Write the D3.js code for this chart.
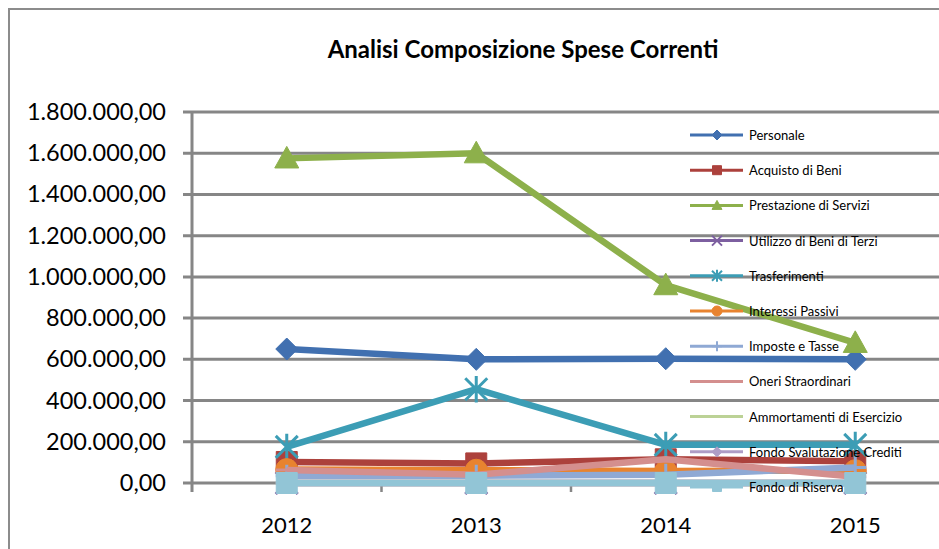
<!DOCTYPE html>
<html>
<head>
<meta charset="utf-8">
<script src="https://cdn.jsdelivr.net/npm/d3@7"></script>
<style>
  body { margin: 0; background: white; }
  #vis { width: 939px; height: 549px; }
  text { font-family: Lato, "Open Sans", sans-serif; fill: #000; }
</style>
</head>
<body>
<div id="vis"></div>
<script>
var years = ['2012', '2013', '2014', '2015'];
var yTicks = [0, 200000, 400000, 600000, 800000, 1000000, 1200000, 1400000, 1600000, 1800000];

var names = ['Personale', 'Acquisto di Beni', 'Prestazione di Servizi', 'Utilizzo di Beni di Terzi',
    'Trasferimenti', 'Interessi Passivi', 'Imposte e Tasse', 'Oneri Straordinari',
    'Ammortamenti di Esercizio', 'Fondo Svalutazione Crediti', 'Fondo di Riserva'];

var personale      = [650000, 600000, 603000, 600000];
var acquisto       = [102000, 95000, 115000, 105000];
var prestazione    = [1575000, 1600000, 960000, 680000];
var utilizzo       = [0, 0, 0, 0];
var trasferimenti  = [175000, 455000, 185000, 185000];
var interessi      = [65000, 62000, 58000, 60000];
var imposte        = [35000, 35000, 40000, 75000];
var oneri          = [63000, 40000, 115000, 30000];
var ammortamenti   = [0, 0, 0, 0];
var fondoSval      = [0, 0, 0, 0];
var fondoRiserva   = [0, 0, 0, 0];

var values = [personale, acquisto, prestazione, utilizzo, trasferimenti, interessi,
    imposte, oneri, ammortamenti, fondoSval, fondoRiserva];

var colors = ['#4170B0', '#AC413C', '#8DB04B', '#7D5FA0', '#3C9DB5', '#E8832F',
    '#8FA9D4', '#D48F8E', '#BCD296', '#AE9DC6', '#92C5D6'];
var markers = ['diamond', 'square', 'triangle', 'x', 'star', 'circle', 'plus', 'dash', 'dash', 'diamond', 'square'];

var width = 939, height = 549;

var svg = d3.select('#vis')
    .append('svg')
    .attr('width', width)
    .attr('height', height);

// outer chart border (cropped at right/bottom)
svg.append('rect')
    .attr('x', 9).attr('y', 9)
    .attr('width', 1000).attr('height', 600)
    .style('fill', 'white')
    .style('stroke', '#8c8c8c')
    .style('stroke-width', 2);

var x_scale = d3.scaleBand()
    .domain(years)
    .range([192, 950])
    .paddingInner(0);

var y_scale = d3.scaleLinear()
    .domain([0, 1800000])
    .range([483, 112]);

var itLocale = d3.formatLocale({ decimal: ',', thousands: '.', grouping: [3], currency: ['', ''] });
var fmt = itLocale.format(',.2f');

svg.append('text')
    .text('Analisi Composizione Spese Correnti')
    .attr('x', 523).attr('y', 58)
    .attr('text-anchor', 'middle')
    .style('font-size', '24px')
    .style('font-weight', 'bold');

// gridlines
svg.append('g').selectAll('line')
    .data(yTicks)
    .enter().append('line')
    .attr('x1', 183).attr('x2', 950)
    .attr('y1', function(d) { return y_scale(d); })
    .attr('y2', function(d) { return y_scale(d); })
    .style('stroke', '#868686')
    .style('stroke-width', 3);

// y axis
var y_axis = d3.axisLeft(y_scale)
    .tickValues(yTicks)
    .tickFormat(fmt)
    .tickSize(0)
    .tickPadding(26);

var yg = svg.append('g')
    .attr('transform', 'translate(192,0)')
    .call(y_axis);
yg.select('.domain').remove();
yg.selectAll('text').style('font-size', '23.5px').style('font-family', 'Lato, sans-serif');

svg.append('line')
    .attr('x1', 192).attr('x2', 192)
    .attr('y1', y_scale(1800000)).attr('y2', 492)
    .style('stroke', '#868686').style('stroke-width', 3);

// x axis
var x_axis = d3.axisBottom(x_scale).tickSize(0).tickPadding(34);
var xg = svg.append('g')
    .attr('transform', 'translate(0,483)')
    .call(x_axis);
xg.select('.domain').remove();
xg.selectAll('text').style('font-size', '22px').style('font-family', 'Lato, sans-serif');

svg.append('g').selectAll('line')
    .data(years.slice(1))
    .enter().append('line')
    .attr('x1', function(d) { return x_scale(d); })
    .attr('x2', function(d) { return x_scale(d); })
    .attr('y1', 483).attr('y2', 492)
    .style('stroke', '#868686').style('stroke-width', 2.5);

function markerPath(type, r) {
    if (type == 'diamond') return 'M0,' + (-r) + 'L' + r + ',0L0,' + r + 'L' + (-r) + ',0Z';
    if (type == 'square') return 'M' + (-r) + ',' + (-r) + 'h' + (2 * r) + 'v' + (2 * r) + 'h' + (-2 * r) + 'Z';
    if (type == 'triangle') return 'M0,' + (-r) + 'L' + r + ',' + (r * 0.8) + 'L' + (-r) + ',' + (r * 0.8) + 'Z';
    if (type == 'circle') return d3.symbol(d3.symbolCircle, Math.PI * r * r)();
    if (type == 'x') return 'M' + (-r) + ',' + (-r) + 'L' + r + ',' + r + 'M' + r + ',' + (-r) + 'L' + (-r) + ',' + r;
    if (type == 'star') return 'M' + (-r) + ',' + (-r) + 'L' + r + ',' + r + 'M' + r + ',' + (-r) + 'L' + (-r) + ',' + r +
        'M0,' + (-r * 1.2) + 'V' + (r * 1.2);
    if (type == 'plus') return 'M' + (-r) + ',0H' + r + 'M0,' + (-r) + 'V' + r;
    if (type == 'dash') return 'M' + (-r) + ',0H' + r;
    return '';
}
var filled = { diamond: 1, square: 1, triangle: 1, circle: 1 };

var line = d3.line()
    .x(function(d, i) { return x_scale(years[i]) + x_scale.bandwidth() / 2; })
    .y(function(d) { return y_scale(d); });

var series = svg.selectAll('.series')
    .data(values)
    .enter().append('g')
    .attr('class', 'series');

series.append('path')
    .attr('d', function(d) { return line(d); })
    .style('fill', 'none')
    .style('stroke', function(d, i) { return colors[i]; })
    .style('stroke-width', 6.5)
    .style('stroke-linejoin', 'round');

series.each(function(vals, i) {
    d3.select(this).selectAll('path.m')
        .data(vals)
        .enter().append('path')
        .attr('class', 'm')
        .attr('transform', function(d, j) {
            return 'translate(' + (x_scale(years[j]) + x_scale.bandwidth() / 2) + ',' + y_scale(d) + ')';
        })
        .attr('d', markerPath(markers[i], markers[i] == 'triangle' ? 12 : (markers[i] == 'square' ? 10.5 : 11)))
        .style('fill', filled[markers[i]] ? colors[i] : 'none')
        .style('stroke', colors[i])
        .style('stroke-width', filled[markers[i]] ? 1 : 3);
});

// legend
var legend = svg.selectAll('.legend')
    .data(names)
    .enter().append('g')
    .attr('class', 'legend')
    .attr('transform', function(d, i) { return 'translate(690,' + (135 + i * 35.2) + ')'; });

legend.append('line')
    .attr('x1', 0).attr('x2', 53)
    .style('stroke', function(d, i) { return colors[i]; })
    .style('stroke-width', 3);

legend.append('path')
    .attr('transform', 'translate(27,0)')
    .attr('d', function(d, i) { return markerPath(markers[i], markers[i] == 'square' ? 4.5 : 5); })
    .style('fill', function(d, i) { return filled[markers[i]] ? colors[i] : 'none'; })
    .style('stroke', function(d, i) { return colors[i]; })
    .style('stroke-width', function(d, i) { return filled[markers[i]] ? 1 : 2; });

legend.append('text')
    .text(function(d) { return d; })
    .attr('x', 59).attr('y', 5)
    .style('font-size', '13px');
</script>
</body>
</html>
